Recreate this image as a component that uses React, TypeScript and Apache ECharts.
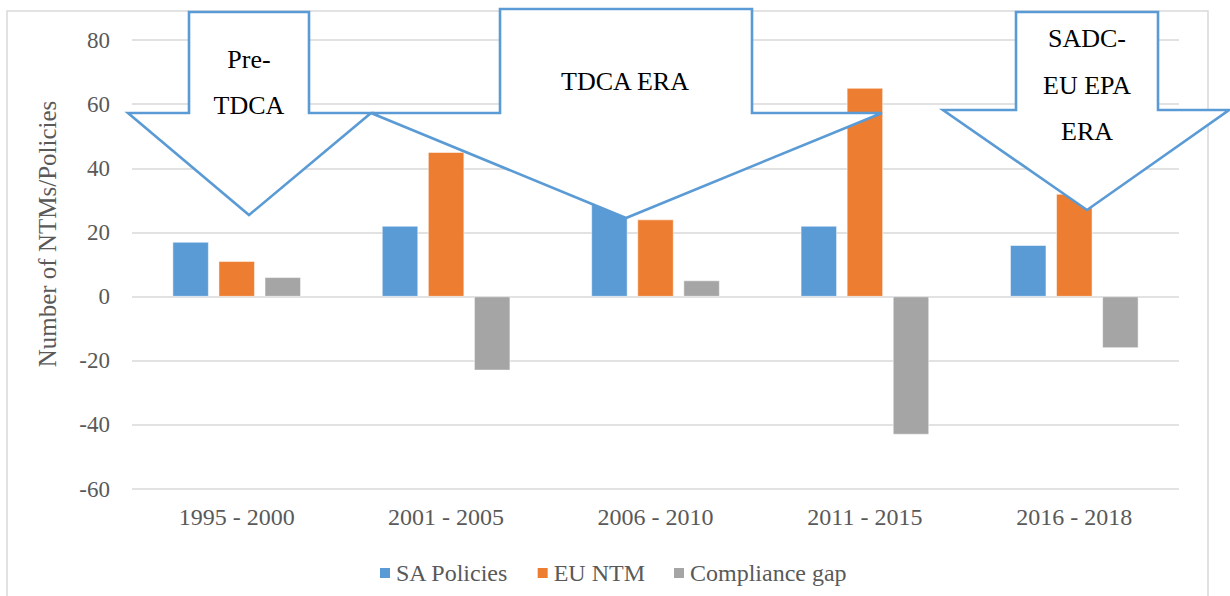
import React, { useEffect, useRef } from "react";
import * as echarts from "echarts";

const categories = ["1995 - 2000", "2001 - 2005", "2006 - 2010", "2011 - 2015", "2016 - 2018"];
const saPolicies = [17, 22, 29, 22, 16];
const euNtm = [11, 45, 24, 65, 32];
const complianceGap = [6, -23, 5, -43, -16];
const seriesNames = ["SA Policies", "EU NTM", "Compliance gap"];
const colors = ["#5B9BD5", "#ED7D31", "#A5A5A5"];
const yMin = -60;
const yMax = 80;
const yInterval = 20;

const FONT = "Liberation Serif, Times New Roman, serif";
const ARROW = "#5B9BD5";

type Callout = {
  boxL: number; boxR: number; top: number; bottom: number;
  wingL: number; wingR: number; tipX: number; tipY: number;
  lines: string[]; textY: number[]; textX: number;
};

const callouts: Callout[] = [
  { boxL: 189, boxR: 309, top: 12, bottom: 113, wingL: 128, wingR: 371, tipX: 249, tipY: 215,
    lines: ["Pre-", "TDCA"], textY: [59, 105], textX: 249 },
  { boxL: 500, boxR: 752, top: 9, bottom: 113, wingL: 371, wingR: 882, tipX: 626, tipY: 218,
    lines: ["TDCA ERA"], textY: [81], textX: 625 },
  { boxL: 1016, boxR: 1158, top: 12, bottom: 110, wingL: 943, wingR: 1229, tipX: 1087, tipY: 210,
    lines: ["SADC-", "EU EPA", "ERA"], textY: [38, 85, 131], textX: 1087 },
];

function calloutElements() {
  const els: any[] = [];
  callouts.forEach((c, i) => {
    els.push({
      type: "polygon",
      z: 100 + i,
      shape: {
        points: [
          [c.boxL, c.top], [c.boxR, c.top], [c.boxR, c.bottom], [c.wingR, c.bottom],
          [c.tipX, c.tipY], [c.wingL, c.bottom], [c.boxL, c.bottom],
        ],
      },
      style: { fill: "#FFFFFF", stroke: ARROW, lineWidth: 2.6, lineJoin: "miter" },
    });
    c.lines.forEach((t, j) => {
      els.push({
        type: "text",
        z: 110 + i,
        style: {
          text: t, x: c.textX, y: c.textY[j], fill: "#000000",
          fontFamily: FONT, fontSize: 26, textAlign: "center", textVerticalAlign: "middle",
        },
      });
    });
  });
  return els;
}

export default function App() {
  const ref = useRef<HTMLDivElement>(null);
  useEffect(() => {
    if (!ref.current) return;
    const chart = echarts.init(ref.current, null, { renderer: "svg" });
    const data = [saPolicies, euNtm, complianceGap];
    chart.setOption({
      animation: false,
      backgroundColor: "#FFFFFF",
      grid: { left: 132, right: 51, top: 40, bottom: 107, containLabel: false },
      legend: {
        data: seriesNames,
        left: 373,
        top: 556,
        itemWidth: 12,
        itemHeight: 12,
        itemGap: 27,
        icon: "rect",
        textStyle: { fontFamily: FONT, fontSize: 24, color: "#595959" },
      },
      xAxis: {
        type: "category",
        data: categories,
        axisLine: { show: false, onZero: false },
        axisTick: { show: false },
        axisLabel: { fontFamily: FONT, fontSize: 24, color: "#595959", margin: 16 },
        splitLine: { show: false },
      },
      yAxis: {
        type: "value",
        min: yMin,
        max: yMax,
        interval: yInterval,
        axisLine: { show: false },
        axisTick: { show: false },
        axisLabel: { fontFamily: FONT, fontSize: 23, color: "#595959", margin: 22 },
        splitLine: { lineStyle: { color: "#D9D9D9", width: 1.5 } },
      },
      series: seriesNames.map((name, i) => ({
        name,
        type: "bar",
        data: data[i],
        barWidth: 36,
        barGap: "28%",
        itemStyle: { color: colors[i], borderColor: "#FFFFFF", borderWidth: 0.5 },
      })),
      graphic: [
        {
          type: "rect",
          z: -10,
          silent: true,
          shape: { x: 7, y: 11, width: 1201, height: 620 },
          style: { fill: "none", stroke: "#D9D9D9", lineWidth: 1.5 },
        },
        {
          type: "text",
          x: 47,
          y: 234,
          rotation: Math.PI / 2,
          style: {
            text: "Number of NTMs/Policies",
            fill: "#595959",
            fontFamily: FONT,
            fontSize: 25,
            textAlign: "center",
            textVerticalAlign: "middle",
          },
        },
        ...calloutElements(),
      ],
    });
    return () => chart.dispose();
  }, []);
  return (
    <div
      ref={ref}
      style={{ position: "fixed", left: 0, top: 0, width: 1230, height: 596 }}
    />
  );
}
